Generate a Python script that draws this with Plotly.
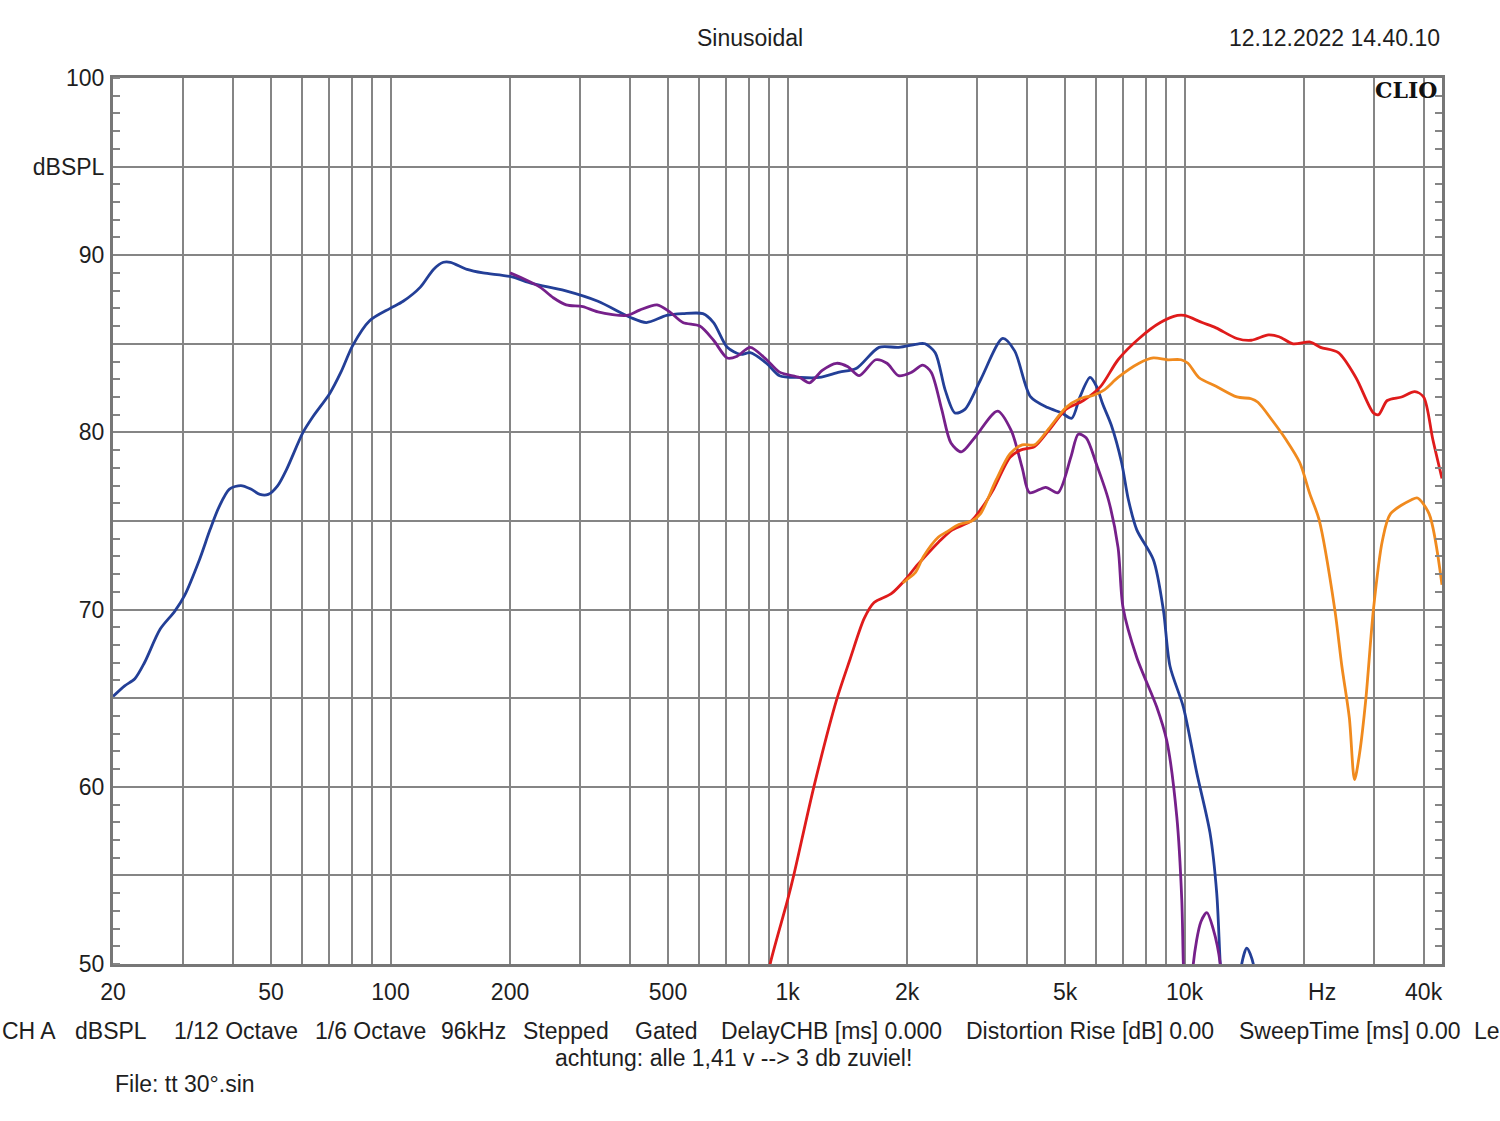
import plotly.graph_objects as go

# --- data (frequency in Hz, level in dBSPL) ---
blue_freq = [20, 21.4, 22.7, 24, 26.3, 28.6, 30.3, 33, 35.1, 37, 39.3, 42, 44.5, 46.9, 49.2,
             52, 54.7, 60.2, 63.8, 70.3, 75, 80.3, 88.6, 99.8, 107.6, 118.9, 128.3, 135.9,
             141.6, 155.9, 171.1, 200, 228, 275, 333, 401, 441, 496, 545, 612, 651, 705,
             761, 805, 886, 955, 1072, 1203, 1350, 1488, 1700, 1904, 2138, 2220, 2355, 2494,
             2640, 2797, 3068, 3484, 3733, 4096, 4519, 4900, 5200, 5450, 5780, 6000, 6220,
             6540, 6940, 7220, 7580, 8350, 8840, 9190, 9930, 10730, 11590, 12050, 12300,
             12700, 13500, 13930, 14350, 14900, 15300]
blue_db = [65.1, 65.7, 66.1, 67.0, 68.9, 69.9, 70.8, 72.8, 74.5, 75.8, 76.8, 77.0, 76.8, 76.5,
           76.5, 77.0, 77.9, 80.0, 80.9, 82.2, 83.4, 84.9, 86.3, 87.0, 87.4, 88.2, 89.2, 89.6,
           89.6, 89.2, 89.0, 88.8, 88.4, 88.0, 87.4, 86.5, 86.2, 86.6, 86.7, 86.7, 86.2, 84.8,
           84.4, 84.5, 83.9, 83.2, 83.1, 83.1, 83.4, 83.6, 84.8, 84.8, 85.0, 85.0, 84.5, 82.4,
           81.1, 81.3, 83.0, 85.3, 84.6, 82.0, 81.4, 81.1, 80.8, 82.0, 83.1, 82.6, 81.6,
           80.4, 78.3, 76.2, 74.5, 72.8, 70.0, 66.8, 64.5, 60.8, 57.4, 54.0, 50.0,
           45.0, 45.0, 50.0, 50.9, 50.0, 45.0]

purple_freq = [200, 215, 238, 257, 277, 305, 333, 394, 424, 469, 505, 545, 601, 651, 705, 747,
               805, 886, 955, 1072, 1136, 1223, 1328, 1420, 1515, 1668, 1780, 1904, 2055, 2190,
               2300, 2445, 2580, 2740, 2960, 3380, 3660, 3900, 4070, 4470, 4800, 5170, 5400,
               5650, 6000, 6430, 6800, 7000, 7580, 8510, 9020, 9560, 9840, 9930, 10150, 10400,
               10520, 11000, 11380, 11800, 12300, 12600]
purple_db = [89.0, 88.7, 88.2, 87.6, 87.2, 87.1, 86.8, 86.6, 86.9, 87.2, 86.8, 86.2, 86.0, 85.2,
             84.2, 84.3, 84.8, 84.1, 83.4, 83.1, 82.8, 83.5, 83.9, 83.7, 83.2, 84.1, 83.9, 83.2,
             83.4, 83.8, 83.4, 81.3, 79.4, 78.9, 79.7, 81.2, 80.1, 78.0, 76.6, 76.9, 76.6, 78.6,
             79.9, 79.7, 78.2, 76.2, 73.5, 70.1, 67.3, 64.5, 62.6, 58.3, 53.6, 50.0, 45.0, 45.0,
             50.0, 52.4, 52.9, 52.0, 50.0, 45.0]

red_freq = [880, 904, 1000, 1039, 1165, 1329, 1437, 1560, 1652, 1825, 2000, 2100, 2200, 2400,
            2600, 2900, 3100, 3285, 3635, 3860, 4190, 4545, 5025, 5560, 6150, 6800, 7680,
            8690, 9600, 10000, 11070, 12000, 13540, 14720, 16260, 17300, 18760, 20740, 22000,
            24400, 27000, 29900, 30800, 32400, 35200, 38000, 40000, 42200, 44500]
red_db = [48.5, 50.0, 53.6, 55.1, 60.0, 64.9, 67.2, 69.5, 70.4, 70.9, 71.8, 72.4, 72.9, 73.8,
          74.5, 75.0, 75.8, 76.7, 78.6, 79.0, 79.2, 80.1, 81.3, 81.8, 82.6, 84.1, 85.3,
          86.2, 86.6, 86.6, 86.2, 85.9, 85.3, 85.2, 85.5, 85.4, 85.0, 85.1, 84.8,
          84.5, 83.1, 81.1, 81.0, 81.8, 82.0, 82.3, 82.0, 79.6, 77.4]

orange_freq = [1950, 2000, 2100, 2200, 2400, 2524, 2700, 2910, 3060, 3350, 3635, 3900, 4190,
               4545, 5025, 5450, 5900, 6280, 6800, 7680, 8340, 9040, 9800, 10200, 10860,
               12000, 13540, 14720, 15300, 16600, 18000, 19500, 20700, 21800, 23900, 24900,
               26000, 26800, 27600, 28600, 29900, 31500, 33000, 37300, 38600, 41300, 44500]
orange_db = [71.5, 71.7, 72.1, 73.0, 74.1, 74.4, 74.8, 75.0, 75.4, 77.3, 78.8, 79.3, 79.3,
             80.2, 81.4, 81.9, 82.1, 82.4, 83.1, 83.9, 84.2, 84.1, 84.1, 83.9, 83.1,
             82.6, 82.0, 81.9, 81.7, 80.7, 79.6, 78.3, 76.5, 75.1, 70.0, 66.8,
             63.9, 60.4, 61.9, 64.9, 70.0, 73.9, 75.4, 76.2, 76.3, 75.4, 71.4]

x_tickvals = [20, 50, 100, 200, 500, 1000, 2000, 5000, 10000, 22200, 40000]
x_ticktext = ["20", "50", "100", "200", "500", "1k", "2k", "5k", "10k", "Hz", "40k"]
x_gridvals = [30, 40, 50, 60, 70, 80, 90, 100, 200, 300, 400, 500, 600, 700, 800, 900,
              1000, 2000, 3000, 4000, 5000, 6000, 7000, 8000, 9000, 10000, 20000, 30000, 40000]
y_tickvals = [50, 55, 60, 65, 70, 75, 80, 85, 90, 95, 100]
y_ticktext = ["50", "", "60", "", "70", "", "80", "", "90", "dBSPL", "100"]

info_items = ["CH A", "dBSPL", "1/12 Octave", "1/6 Octave", "96kHz", "Stepped", "Gated",
              "DelayCHB [ms] 0.000", "Distortion Rise [dB] 0.00", "SweepTime [ms] 0.00", "Le"]
info_left_px = [0, 73, 172, 313, 439, 521, 633, 719, 964, 1237, 1472]

W, H = 1500, 1121
L, R, T, B = 113, 58, 78, 157
PW, PH = W - L - R, H - T - B
FONT = "Liberation Sans, Arial, sans-serif"
GRID = "#858585"

fig = go.Figure()
for fx, fy, col in [(blue_freq, blue_db, "#233f97"), (purple_freq, purple_db, "#76208a"),
                    (red_freq, red_db, "#df1b1b"), (orange_freq, orange_db, "#f08a1e")]:
    fig.add_trace(go.Scatter(x=fx, y=fy, mode="lines",
                             line=dict(color=col, width=2.8, shape="spline", smoothing=0.8),
                             showlegend=False, hoverinfo="x+y"))
# empty trace to bring up the right-hand tick axis
fig.add_trace(go.Scatter(x=[], y=[], yaxis="y2", showlegend=False))

fig.update_layout(
    width=W, height=H,
    margin=dict(l=L, r=R, t=T, b=B),
    paper_bgcolor="white", plot_bgcolor="white",
    font=dict(family=FONT, size=23, color="#1e1e1e"),
    xaxis=dict(type="log", range=[1.30103, 4.6484], tickvals=x_tickvals, ticktext=x_ticktext,
               showgrid=False, ticks="outside", ticklen=5, tickcolor="rgba(0,0,0,0)",
               showline=True, linecolor="#777777", linewidth=3, mirror=True, zeroline=False,
               minor=dict(tickvals=x_gridvals, showgrid=True, gridcolor=GRID, gridwidth=2, ticks="")),
    yaxis=dict(range=[50, 100], tickvals=y_tickvals, ticktext=y_ticktext,
               showgrid=True, gridcolor=GRID, gridwidth=2, ticks="outside", ticklen=1,
               tickcolor="rgba(0,0,0,0)", showline=True, linecolor="#777777", linewidth=3,
               mirror=True, zeroline=False,
               minor=dict(dtick=1, ticks="inside", ticklen=7, tickcolor=GRID, tickwidth=1.5, showgrid=False)),
    yaxis2=dict(range=[50, 100], overlaying="y", side="right", showticklabels=False,
                showgrid=False, zeroline=False, ticks="",
                minor=dict(dtick=1, ticks="inside", ticklen=7, tickcolor=GRID, tickwidth=1.5, showgrid=False)),
)

def px_x(p):
    return (p - L) / PW

def px_y(p):
    return (H - B - p) / PH

fig.add_annotation(x=px_x(750), y=px_y(38), xref="paper", yref="paper", text="Sinusoidal",
                   showarrow=False, xanchor="center", yanchor="middle")
fig.add_annotation(x=px_x(1442), y=px_y(38), xref="paper", yref="paper", text="12.12.2022 14.40.10",
                   showarrow=False, xanchor="right", yanchor="middle")
fig.add_annotation(x=px_x(1439), y=px_y(90), xref="paper", yref="paper", text="<b>CLIO</b>",
                   showarrow=False, xanchor="right", yanchor="middle",
                   font=dict(family="DejaVu Serif, serif", size=22, color="#111111"))
for txt, lx in zip(info_items, info_left_px):
    fig.add_annotation(x=px_x(lx), y=px_y(1031), xref="paper", yref="paper", text=txt,
                       showarrow=False, xanchor="left", yanchor="middle")
fig.add_annotation(x=px_x(733), y=px_y(1058), xref="paper", yref="paper",
                   text="achtung: alle 1,41 v --> 3 db zuviel!", showarrow=False,
                   xanchor="center", yanchor="middle")
fig.add_annotation(x=px_x(113), y=px_y(1084), xref="paper", yref="paper", text="File: tt 30°.sin",
                   showarrow=False, xanchor="left", yanchor="middle")

fig.write_html("out.html", config={"displayModeBar": False},
               post_script="document.body.style.margin='0';")
